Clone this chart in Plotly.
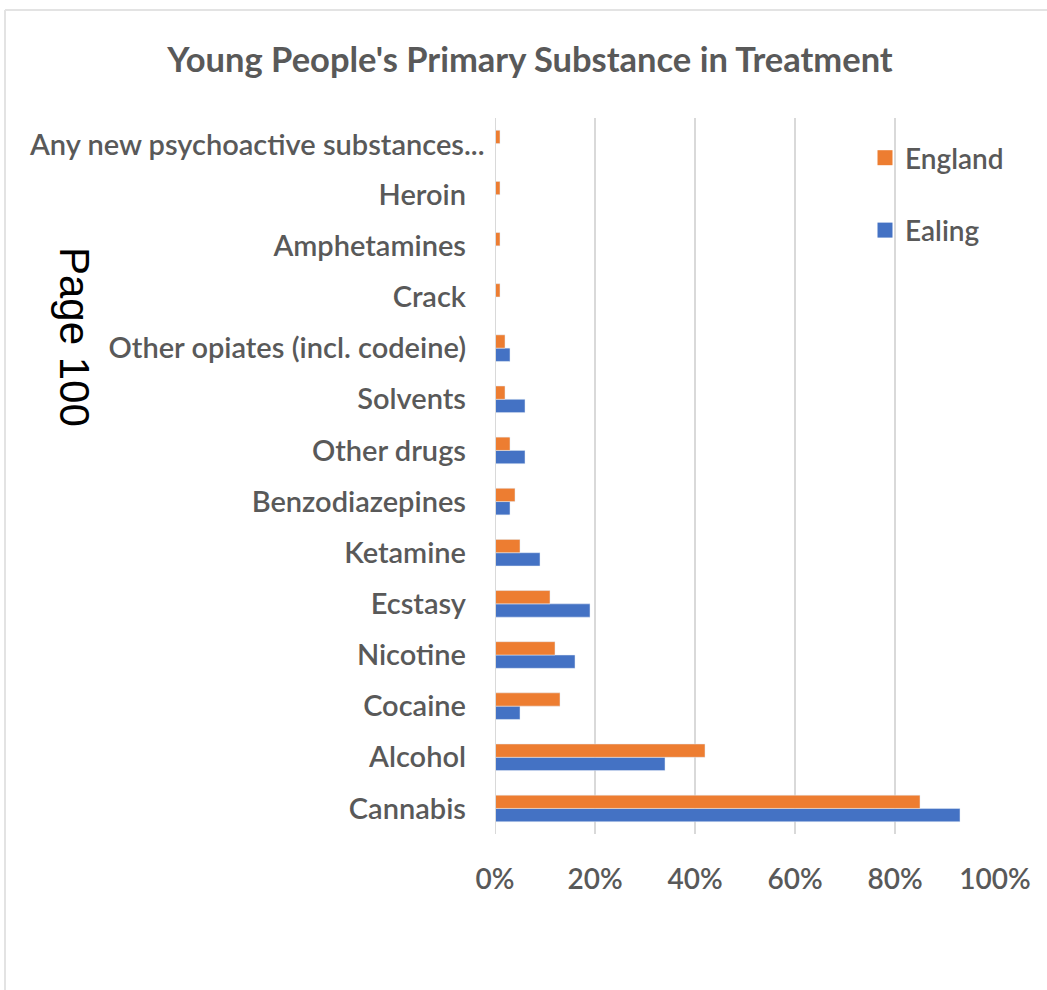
import plotly.graph_objects as go

# Primary substance of young people in treatment, share of clients (%)
substances = [
    "Cannabis", "Alcohol", "Cocaine", "Nicotine", "Ecstasy", "Ketamine",
    "Benzodiazepines", "Other drugs", "Solvents", "Other opiates (incl. codeine)",
    "Crack", "Amphetamines", "Heroin", "Any new psychoactive substances...",
]
england = [85, 42, 13, 12, 11, 5, 4, 3, 2, 2, 1, 1, 1, 1]
ealing = [93, 34, 5, 16, 19, 9, 3, 6, 6, 3, 0, 0, 0, 0]

x_ticks = [0, 20, 40, 60, 80, 100]
x_tick_labels = ["0%", "20%", "40%", "60%", "80%", "100%"]

ORANGE = "#ED7D31"
BLUE = "#4472C4"
TEXT = "#595959"
GRID = "#D9D9D9"
FONT = "Lato, 'Open Sans', sans-serif"
LABEL_WEIGHT = 600

W, H = 1047, 990
L, R, T, B = 495, 52, 118, 156
plot_w, plot_h = W - L - R, H - T - B


def px_x(p):
    return (p - L) / plot_w


def px_y(p):
    return (H - B - p) / plot_h


label_font = dict(family=FONT, size=28, color=TEXT, weight=LABEL_WEIGHT)
cat_font = dict(family=FONT, size=29, color=TEXT, weight=LABEL_WEIGHT)

fig = go.Figure()
fig.add_trace(go.Bar(y=substances, x=ealing, orientation="h", name="Ealing",
                     marker_color=BLUE, showlegend=False))
fig.add_trace(go.Bar(y=substances, x=england, orientation="h", name="England",
                     marker_color=ORANGE, showlegend=False))

# legend entries with larger square swatches
for name, col, grp in [("England", ORANGE, "a"), ("Ealing", BLUE, "b")]:
    fig.add_trace(go.Scatter(x=[None], y=[None], mode="markers", name=name,
                             legendgroup=grp,
                             marker=dict(symbol="square", size=15, color=col)))

tick_text = [s if not s.startswith("Any new") else "" for s in substances]

fig.update_layout(
    width=W, height=H,
    margin=dict(l=L, r=R, t=T, b=B),
    paper_bgcolor="white", plot_bgcolor="white",
    barmode="group", bargap=0.48, bargroupgap=0,
    font=dict(family=FONT, color=TEXT, size=28),
    title=dict(text="<b>Young People's Primary Substance in Treatment</b>",
               x=px_x(530), xref="paper", xanchor="center",
               y=1 - 60 / H, yanchor="middle",
               font=dict(family=FONT, size=34.5, color=TEXT)),
    xaxis=dict(range=[0, 100], tickvals=x_ticks, ticktext=x_tick_labels,
               showgrid=True, gridcolor=GRID, gridwidth=2,
               zeroline=False, showline=False, ticks="",
               ticklabelstandoff=26,
               tickfont=label_font),
    yaxis=dict(type="category", categoryorder="array", categoryarray=substances,
               tickvals=substances, ticktext=tick_text,
               range=[-0.5, len(substances) - 0.5],
               showgrid=False, zeroline=False, showline=False, ticks="",
               ticklabelstandoff=28,
               tickfont=cat_font),
    legend=dict(x=px_x(865), y=px_y(133), xanchor="left", yanchor="top",
                traceorder="grouped", tracegroupgap=33,
                font=label_font,
                bgcolor="rgba(0,0,0,0)"),
)

# axis line at 0%
fig.add_shape(type="line", xref="x", yref="paper", x0=0, x1=0, y0=0, y1=1,
              line=dict(color=GRID, width=2))

# truncated long category label
fig.add_annotation(text=substances[-1], xref="paper", yref="y",
                   x=px_x(487), y=substances[-1], xanchor="right", yanchor="middle",
                   showarrow=False, font=cat_font)

# page number stamp
fig.add_annotation(text="Page 100", xref="paper", yref="paper",
                   x=px_x(75), y=px_y(337), xanchor="center", yanchor="middle",
                   textangle=90, showarrow=False,
                   font=dict(family="'Liberation Sans', Arial, sans-serif",
                             size=42, color="black"))

# chart frame edges
fig.add_shape(type="line", xref="paper", yref="paper",
              x0=px_x(5), x1=px_x(5), y0=px_y(10), y1=px_y(H + 5),
              line=dict(color="#E3E3E3", width=2))
fig.add_shape(type="line", xref="paper", yref="paper",
              x0=px_x(5), x1=px_x(W + 5), y0=px_y(10), y1=px_y(10),
              line=dict(color="#E3E3E3", width=2))

fig.write_html("out.html")
